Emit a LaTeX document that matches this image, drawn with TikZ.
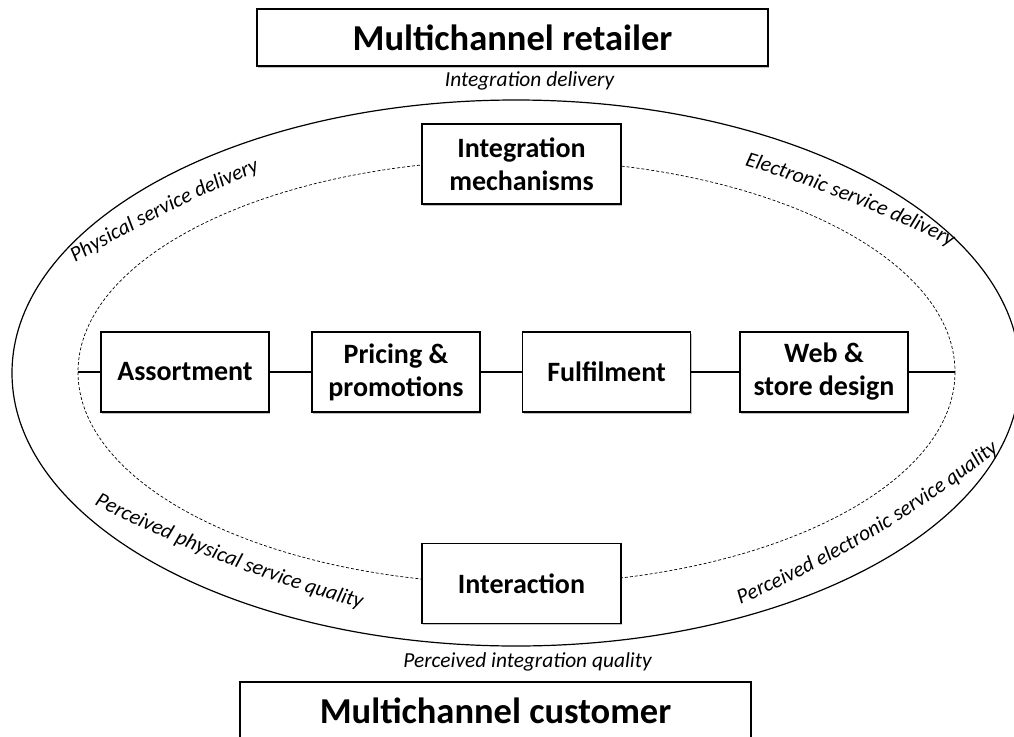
\documentclass[tikz,border=0pt]{standalone}
\usepackage{fontspec}
\setmainfont{Carlito}
\usetikzlibrary{shadows,decorations.text}

\newcommand\flowfont{\itshape\fontsize{21.4}{24}\selectfont}

\tikzset{
    box/.style={draw, line width=1.2pt, fill=white, align=center,
        minimum width=168pt, minimum height=80pt, inner sep=0pt,
        font=\bfseries\fontsize{28}{33}\selectfont,
        drop shadow={shadow xshift=1.2pt, shadow yshift=-1.6pt,
            opacity=0.35, fill=black!70}},
    widebox/.style={box, minimum width=199pt},
    titlebox/.style={box, minimum width=511pt, minimum height=57pt,
        font=\bfseries\fontsize{36.5}{40}\selectfont},
    ring/.style={line width=1.2pt},
    innerring/.style={line width=0.7pt, dash pattern=on 3pt off 2pt},
    link/.style={line width=2.2pt},
    flow/.style={font=\flowfont, inner sep=0pt},
    flowpath/.style={decorate, decoration={text along path,
        text align=center, text={|\flowfont|#1}}}
}

\begin{document}
\begin{tikzpicture}[x=1pt, y=-1pt]
    \pgfmathsetmacro\midy{372};
    \useasboundingbox (0, 0) rectangle (1014, 736);

    % the two rings
    \draw[ring] (516, 373) ellipse [x radius=504, y radius=273];
    \draw[innerring] (516.5, \midy) ellipse [x radius=438.5, y radius=212];

    % retailer and customer
    \node[titlebox] (retailer) at (512.5, 37.5) {Multichannel retailer};
    \node[titlebox] (customer) at (495.5, 710.5) {Multichannel customer};
    \node[flow, anchor=base] (intdeliv) at (529.5, 86) {Integration delivery};
    \node[flow, anchor=base] (intqual) at (527.5, 667)
        {Perceived integration quality};

    % integration and interaction
    \node[widebox] (mechanisms) at (521.5, 164) {Integration\\mechanisms};
    \node[widebox] (interaction) at (521.5, 583.5) {Interaction};

    % the retail mix
    \coordinate (lft) at (78, \midy);
    \coordinate (rgt) at (955, \midy);
    \foreach \x/\name/\txt in {185/assort/Assortment,
            396/pricing/{Pricing \&\\promotions},
            606.5/fulfil/Fulfilment,
            824/webstore/{Web \&\\store design}}
        \node[box] (\name) at (\x, \midy) {\txt};
    \foreach \a/\b in {lft/assort, assort/pricing, pricing/fulfil,
            fulfil/webstore, webstore/rgt}
        \draw[link] (\a) -- (\b);

    % delivery and quality along the rings
    \path[flowpath={Physical service delivery}] (58, 273)
        .. controls (129, 230) and (201, 194) .. (278, 163);
    \path[flowpath={Electronic service delivery}] (726, 160)
        .. controls (810, 184) and (889, 215) .. (968, 255);
    \path[flowpath={Perceived physical service quality}] (72, 493)
        .. controls (172, 546) and (275, 586) .. (385, 615);
    \path[flowpath={Perceived electronic service quality}] (720, 613)
        .. controls (827, 569) and (925, 511) .. (1016, 437);
\end{tikzpicture}
\end{document}
